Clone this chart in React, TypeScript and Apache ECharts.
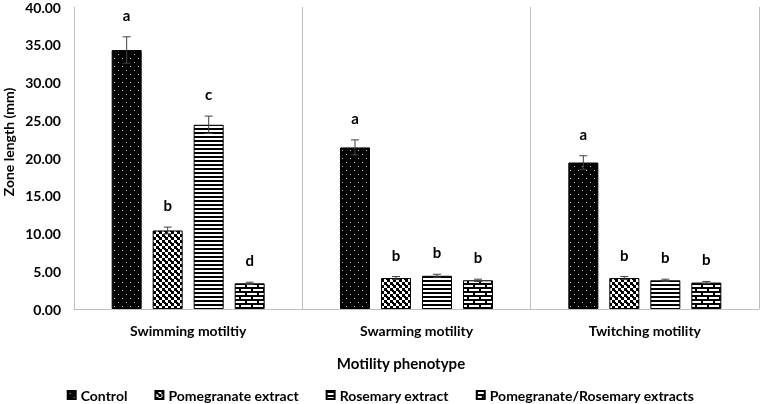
import React, { useEffect, useRef } from "react";
import * as echarts from "echarts";

const categories = ["Swimming motiltiy", "Swarming motility", "Twitching motility"];
const seriesNames = ["Control", "Pomegranate extract", "Rosemary extract", "Pomegranate/Rosemary extracts"];

const controlValues = [34.3, 21.4, 19.4];
const pomegranateValues = [10.4, 4.1, 4.1];
const rosemaryValues = [24.4, 4.4, 3.8];
const comboValues = [3.4, 3.8, 3.5];

const controlErrors = [1.75, 1.0, 0.9];
const pomegranateErrors = [0.45, 0.2, 0.2];
const rosemaryErrors = [1.15, 0.2, 0.15];
const comboErrors = [0.15, 0.15, 0.15];

const controlLetters = ["a", "a", "a"];
const pomegranateLetters = ["b", "b", "b"];
const rosemaryLetters = ["c", "b", "b"];
const comboLetters = ["d", "b", "b"];

const yTicks = { min: 0, max: 40, interval: 5 };
const xTitle = "Motility phenotype";
const yTitle = "Zone length (mm)";

const FONT = "Lato, 'Open Sans', sans-serif";

function makeTile(w: number, h: number, draw: (ctx: CanvasRenderingContext2D) => void) {
  const c = document.createElement("canvas");
  c.width = w;
  c.height = h;
  const ctx = c.getContext("2d")!;
  draw(ctx);
  return { image: c.toDataURL(), repeat: "repeat", imageWidth: w, imageHeight: h };
}

export default function App() {
  const ref = useRef<HTMLDivElement>(null);

  useEffect(() => {
    if (!ref.current) return;
    const chart = echarts.init(ref.current, null, { renderer: "svg" });

    const dotPattern = makeTile(8, 8, (ctx) => {
      ctx.fillStyle = "#000";
      ctx.fillRect(0, 0, 8, 8);
      ctx.fillStyle = "#c8c8c8";
      ctx.fillRect(2, 2, 1, 1);
      ctx.fillRect(6, 6, 1, 1);
    });
    const checkPattern = makeTile(6, 6, (ctx) => {
      ctx.fillStyle = "#fff";
      ctx.fillRect(0, 0, 6, 6);
      ctx.fillStyle = "#000";
      ctx.fillRect(0, 0, 3, 3);
      ctx.fillRect(3, 3, 3, 3);
      ctx.fillRect(2, 2, 2, 2);
    });
    const stripePattern = makeTile(4, 4, (ctx) => {
      ctx.fillStyle = "#fff";
      ctx.fillRect(0, 0, 4, 4);
      ctx.fillStyle = "#000";
      ctx.fillRect(0, 0, 4, 2);
    });
    const brickPattern = makeTile(12, 8, (ctx) => {
      ctx.fillStyle = "#000";
      ctx.fillRect(0, 0, 12, 8);
      ctx.fillStyle = "#fff";
      ctx.fillRect(1, 1, 10, 2);
      ctx.fillRect(0, 5, 5, 2);
      ctx.fillRect(7, 5, 5, 2);
    });

    const values = [controlValues, pomegranateValues, rosemaryValues, comboValues];
    const errors = [controlErrors, pomegranateErrors, rosemaryErrors, comboErrors];
    const letters = [controlLetters, pomegranateLetters, rosemaryLetters, comboLetters];
    const patterns = [dotPattern, checkPattern, stripePattern, brickPattern];

    const barWidth = 30;
    const gap = 11;

    const errData: number[][] = [];
    values.forEach((vals, s) => vals.forEach((v, c) => errData.push([c, v + errors[s][c]])));

    const option: any = {
      animation: false,
      textStyle: { fontFamily: FONT },
      grid: { left: 74, right: 2, top: 5, bottom: 95 },
      legend: {
        data: seriesNames,
        top: 388,
        left: "center",
        padding: 0,
        icon: "rect",
        itemWidth: 8,
        itemHeight: 8,
        itemGap: 27,
        textStyle: { fontFamily: FONT, fontWeight: "bold", fontSize: 14, color: "#000" },
      },
      graphic: [
        {
          type: "text",
          x: 8,
          y: 142,
          rotation: Math.PI / 2,
          style: {
            text: yTitle,
            fill: "#000",
            font: `bold 14px ${FONT}`,
            align: "center",
            verticalAlign: "middle",
          },
        },
        {
          type: "text",
          x: 401,
          y: 363,
          style: {
            text: xTitle,
            fill: "#000",
            font: `bold 15px ${FONT}`,
            align: "center",
            verticalAlign: "middle",
          },
        },
      ],
      xAxis: {
        type: "category",
        data: categories,
        axisLine: { show: true, lineStyle: { color: "#bfbfbf", width: 1 } },
        axisTick: { show: false },
        axisLabel: { margin: 14, fontFamily: FONT, fontWeight: "bold", fontSize: 14, color: "#000" },
        splitLine: { show: true, lineStyle: { color: "#bfbfbf", width: 1 } },
      },
      yAxis: {
        type: "value",
        min: yTicks.min,
        max: yTicks.max,
        interval: yTicks.interval,
        axisLine: { show: true, lineStyle: { color: "#bfbfbf", width: 1 } },
        axisTick: { show: false },
        splitLine: { show: false },
        axisLabel: {
          margin: 13,
          fontFamily: FONT,
          fontWeight: "bold",
          fontSize: 14,
          color: "#000",
          formatter: (v: number) => v.toFixed(2),
        },
      },
      series: [
        ...seriesNames.map((name, s) => ({
          name,
          type: "bar",
          data: values[s],
          barWidth,
          barGap: `${(gap / barWidth) * 100}%`,
          itemStyle: { color: patterns[s], borderColor: "#000", borderWidth: 1 },
        })),
        {
          name: "errors",
          type: "custom",
          data: errData,
          encode: { x: 0, y: 1 },
          z: 10,
          renderItem: (params: any, api: any) => {
            const i = params.dataIndex;
            const s = Math.floor(i / 3);
            const c = i % 3;
            const v = values[s][c];
            const e = errors[s][c];
            const cx = api.coord([c, 0])[0] + (s - 1.5) * (barWidth + gap);
            const yt = api.coord([c, v + e])[1];
            const yb = api.coord([c, v - e])[1];
            const ls = { stroke: "#404040", lineWidth: 1 };
            return {
              type: "group",
              children: [
                { type: "line", shape: { x1: cx, y1: yt, x2: cx, y2: yb }, style: ls },
                { type: "line", shape: { x1: cx - 4, y1: yt, x2: cx + 4, y2: yt }, style: ls },
                { type: "line", shape: { x1: cx - 4, y1: yb, x2: cx + 4, y2: yb }, style: ls },
                {
                  type: "text",
                  x: cx,
                  y: yt - 22,
                  style: {
                    text: letters[s][c],
                    fill: "#000",
                    font: `bold 15px ${FONT}`,
                    align: "center",
                    verticalAlign: "middle",
                  },
                },
              ],
            };
          },
        },
      ],
    };

    chart.setOption(option);
    return () => chart.dispose();
  }, []);

  return <div ref={ref} style={{ position: "fixed", left: 0, top: 0, width: 761, height: 404 }} />;
}
